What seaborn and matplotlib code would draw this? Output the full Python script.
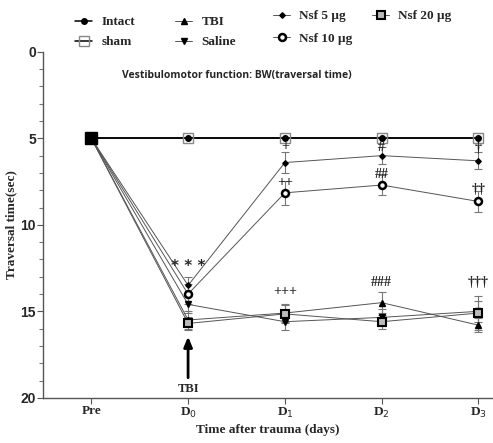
import matplotlib
matplotlib.use("Agg")
import matplotlib.pyplot as plt
from matplotlib.ticker import MultipleLocator
import seaborn as sns
import pandas as pd

# Time points
timepoints = ["Pre", "D$_0$", "D$_1$", "D$_2$", "D$_3$"]

# Mean traversal time (sec) per group
intact = [5.0, 5.0, 5.0, 5.0, 5.0]
sham = [5.0, 5.0, 5.0, 5.0, 5.0]
tbi = [5.0, 15.5, 15.1, 14.5, 15.8]
saline = [5.0, 14.6, 15.6, 15.35, 15.0]
nsf5 = [5.0, 13.5, 6.4, 6.0, 6.3]
nsf10 = [5.0, 14.0, 8.15, 7.7, 8.65]
nsf20 = [5.0, 15.7, 15.15, 15.6, 15.1]

# Standard errors
tbi_sem = [0.0, 0.5, 0.5, 0.6, 0.4]
saline_sem = [0.0, 0.5, 0.5, 0.5, 0.6]
nsf5_sem = [0.0, 0.5, 0.6, 0.5, 0.5]
nsf10_sem = [0.0, 0.6, 0.7, 0.6, 0.6]
nsf20_sem = [0.0, 0.4, 0.5, 0.4, 1.0]
zero_sem = [0.0, 0.0, 0.0, 0.0, 0.0]

sns.set_style("ticks")
plt.rcParams["font.family"] = ["DejaVu Sans"]

serif = "Liberation Serif"
sans = "Liberation Sans"

fig = plt.figure(figsize=(4.93, 4.43), dpi=100)
ax = fig.add_axes([0.087, 0.102, 0.913, 0.781])

x = list(range(len(timepoints)))

groups = [
    # label, means, sem, marker, size, face, edge, mew, line colour, lw
    ("Intact", intact, zero_sem, "o", 4, "black", "black", 1.0, "black", 1.1),
    ("sham", sham, zero_sem, "s", 7, "none", "#888888", 1.0, "black", 1.1),
    ("TBI", tbi, tbi_sem, "^", 4, "black", "black", 1.0, "#555555", 0.7),
    ("Saline", saline, saline_sem, "v", 4, "black", "black", 1.0, "#555555", 0.7),
    ("Nsf 5 µg", nsf5, nsf5_sem, "D", 2.8, "black", "black", 1.0, "#555555", 0.7),
    ("Nsf 10 µg", nsf10, nsf10_sem, "o", 5, "white", "black", 1.8, "#555555", 0.7),
    ("Nsf 20 µg", nsf20, nsf20_sem, "s", 5.5, "#bbbbbb", "black", 1.5, "#555555", 0.7),
]

for label, means, sem, marker, ms, fc, ec, mew, lc, lw in groups:
    df = pd.DataFrame({"x": x, "time": means})
    if any(s > 0 for s in sem):
        ax.errorbar(x, means, yerr=sem, fmt="none", ecolor="#777777",
                    elinewidth=0.8, capsize=3, capthick=0.8, zorder=2)
    sns.lineplot(data=df, x="x", y="time", ax=ax, color=lc, linewidth=lw,
                 marker=marker, markersize=ms, markerfacecolor=fc,
                 markeredgecolor=ec, markeredgewidth=mew, label=label,
                 zorder=3, legend=False)

# Pre-injury baseline shared by all groups
ax.plot([0], [5.0], marker="s", markersize=8, color="black", zorder=5)

ax.set_ylim(20, 0)
ax.set_xlim(-0.5, 4.15)
ax.yaxis.set_major_locator(MultipleLocator(5))
ax.yaxis.set_minor_locator(MultipleLocator(1))
ax.set_xticks(x)
ax.set_xticklabels(timepoints, fontfamily=serif, fontweight="bold", fontsize=9.5)
for t in ax.get_yticklabels():
    t.set_fontweight("bold")
    t.set_fontsize(10)
    t.set_fontfamily(sans)
ax.tick_params(axis="both", which="major", length=4.5, width=0.8, color="#555555")
ax.tick_params(axis="y", which="minor", length=3, width=0.8, color="#777777")
ax.tick_params(axis="x", pad=1)
ax.tick_params(axis="y", pad=0.5)
sns.despine(ax=ax)
for s in ("left", "bottom"):
    ax.spines[s].set_linewidth(1.0)
    ax.spines[s].set_color("#555555")

ax.set_ylabel("Traversal time(sec)", fontfamily=serif, fontweight="bold",
              fontsize=9.5)
ax.yaxis.set_label_coords(-0.056, 0.5)
ax.set_xlabel("Time after trauma (days)", fontfamily=serif, fontweight="bold",
              fontsize=9.5, labelpad=3)

ax.text(1.5, 1.35, "Vestibulomotor function: BW(traversal time)",
        ha="center", va="center", fontsize=7.5, fontweight="bold",
        fontfamily="Open Sans")

# TBI arrow
ax.annotate("", xy=(1, 16.3), xytext=(1, 19.0),
            arrowprops=dict(arrowstyle="-|>,head_width=0.25,head_length=0.6",
                            color="black", lw=2))
ax.text(1, 19.5, "TBI", ha="center", va="center", fontfamily=serif,
        fontweight="bold", fontsize=9)

# Significance marks
marks = [
    (1, 12.4, "* * *", 11),
    (2, 5.5, "+", 10),
    (2, 7.55, "++", 10),
    (2, 13.85, "+++", 10),
    (3, 5.55, "#", 10),
    (3, 7.1, "##", 10),
    (3, 13.35, "###", 10),
    (4, 5.6, "†", 10),
    (4, 7.95, "††", 10),
    (4, 13.35, "†††", 10),
]
for xi, yi, txt, fs in marks:
    if txt.startswith("*"):
        ax.text(xi, yi, txt, ha="center", va="center", fontsize=fs,
                fontfamily="DejaVu Sans", fontweight="bold")
    else:
        ax.text(xi, yi, txt, ha="center", va="center", fontsize=fs,
                fontfamily=[serif, "DejaVu Sans"], fontweight="bold")

# Legend laid out in four columns above the axes
handles = ax.get_lines()
lookup = {h.get_label(): h for h in handles}
columns = [
    (["Intact", "sham"], 75, 16, 0.6),
    (["TBI", "Saline"], 175, 16, 0.6),
    (["Nsf 5 µg", "Nsf 10 µg"], 273, 10, 0.8),
    (["Nsf 20 µg"], 372, 10, 0.8),
]
W, H = 493.0, 443.0
for names, px, py, spacing in columns:
    fig.legend([lookup[n] for n in names], names, loc="upper left",
               bbox_to_anchor=(px / W, 1 - py / H), frameon=False,
               borderpad=0, borderaxespad=0, handlelength=1.3,
               handletextpad=0.7, labelspacing=spacing,
               prop={"family": serif, "weight": "bold", "size": 9.5})

fig.savefig("out.png", dpi=100)
